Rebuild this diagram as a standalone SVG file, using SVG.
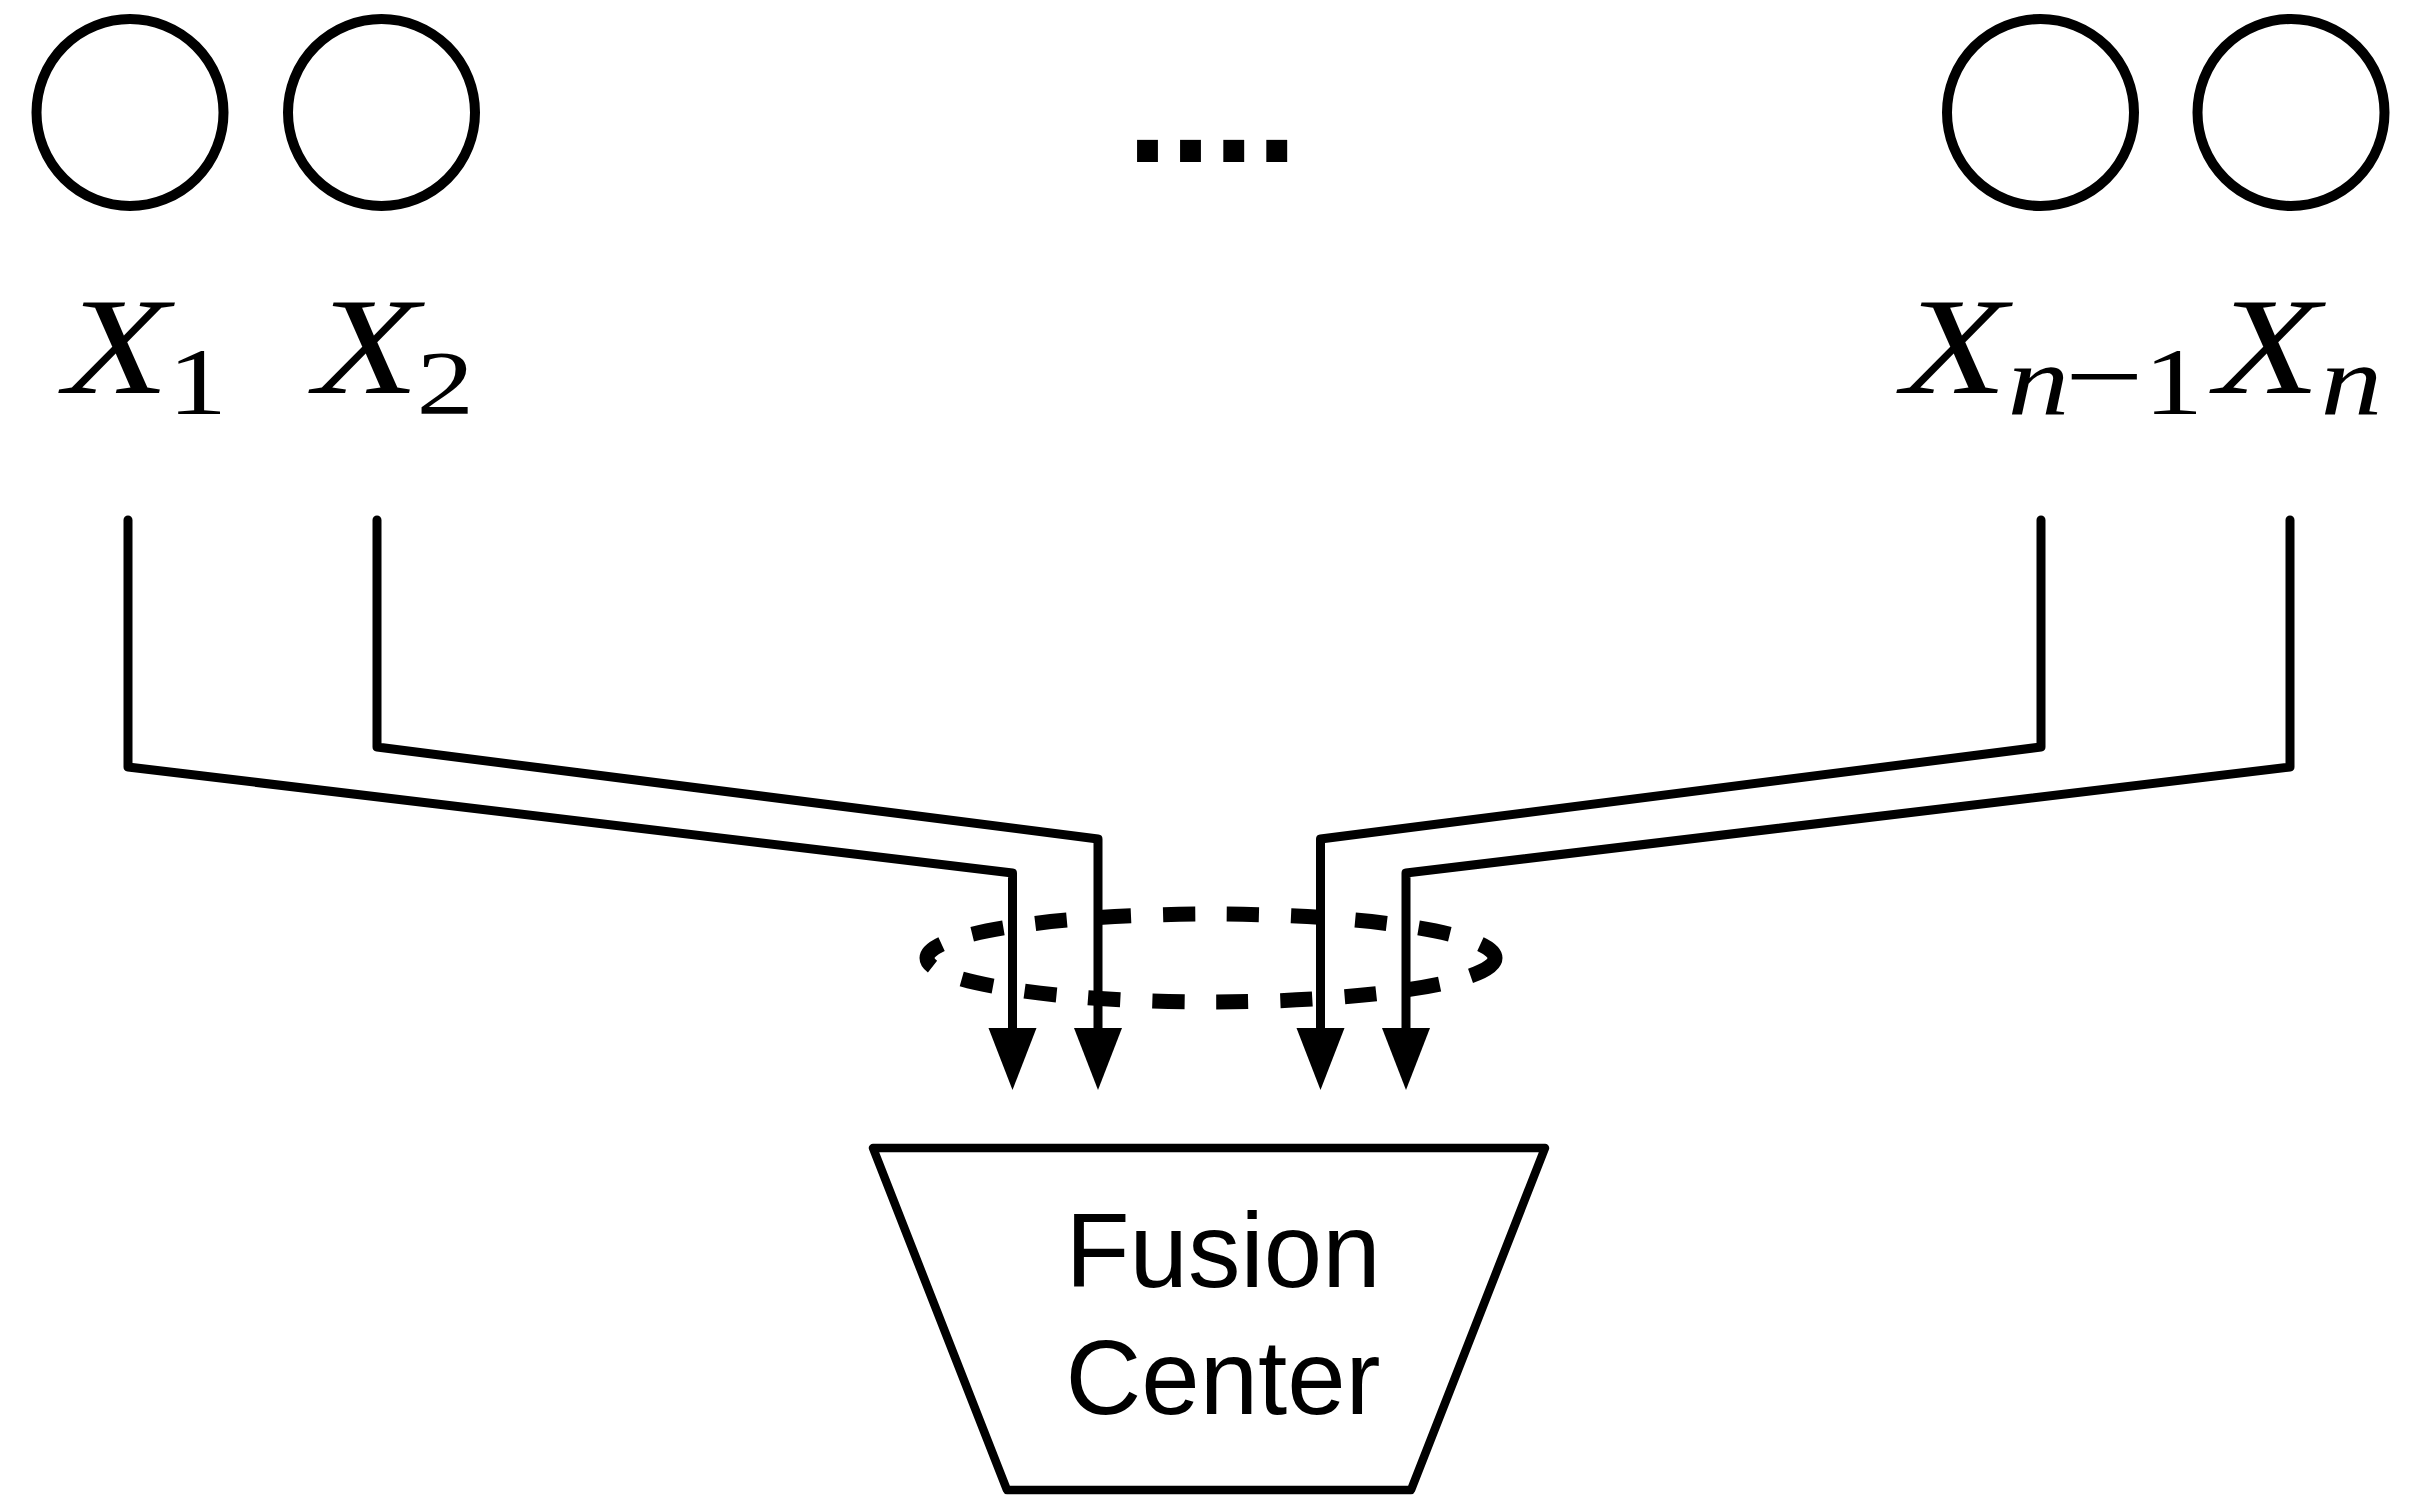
<svg xmlns="http://www.w3.org/2000/svg" width="2409" height="1496" viewBox="0 0 2409 1496">
<style>
.node{fill:none;stroke:#000;stroke-width:10}
.conn{fill:none;stroke:#000;stroke-width:9;stroke-linejoin:round;stroke-linecap:round}
.math{font-family:"Liberation Serif","Times New Roman",serif;fill:#000}
.it{font-style:italic}
.lbl{font-family:"Liberation Sans",Arial,sans-serif;font-size:105px;fill:#000;text-anchor:middle}
.dash{fill:none;stroke:#000;stroke-width:15;stroke-dasharray:32 32}
</style>
<defs>
<marker id="arr" markerUnits="userSpaceOnUse" markerWidth="64" markerHeight="50" viewBox="0 -25 64 50" refX="0" refY="0" orient="auto">
<path d="M0,-24 L0,24 L62,0 Z" fill="#000"/>
</marker>
</defs>
<rect width="2409" height="1496" fill="#fff"/>
<g id="node-x1">
<circle class="node" cx="130" cy="112.5" r="93.5"/>
<text class="math" transform="translate(64,393) scale(1.25,1)"><tspan class="it" font-size="138">X</tspan><tspan font-size="95" x="83" y="21">1</tspan></text>
</g>
<g id="node-x2">
<circle class="node" cx="381.5" cy="112.5" r="93.5"/>
<text class="math" transform="translate(314,393) scale(1.25,1)"><tspan class="it" font-size="138">X</tspan><tspan font-size="92" x="82" y="21">2</tspan></text>
</g>
<g id="ellipsis">
<text font-family="Liberation Sans,Arial,sans-serif" font-weight="bold" font-size="148" letter-spacing="2" x="1127" y="162">....</text>
</g>
<g id="node-xn1">
<circle class="node" cx="2040.5" cy="112.5" r="93.5"/>
<text class="math" transform="translate(1902,393) scale(1.25,1)"><tspan class="it" font-size="138">X</tspan><tspan class="it" font-size="99" x="84.5" y="21">n</tspan><tspan font-size="112" x="130" y="21">−</tspan><tspan font-size="95" x="193.5" y="21">1</tspan></text>
</g>
<g id="node-xn">
<circle class="node" cx="2291" cy="112.5" r="93.5"/>
<text class="math" transform="translate(2215,393) scale(1.25,1)"><tspan class="it" font-size="138">X</tspan><tspan class="it" font-size="99" x="84.5" y="21">n</tspan></text>
</g>
<g id="node-fusion">
<path d="M873,1148 L1545,1148 L1411,1490 L1007,1490 Z" fill="none" stroke="#000" stroke-width="8.5" stroke-linejoin="round"/>
<text class="lbl" x="1223" y="1286.5">Fusion</text>
<text class="lbl" x="1223" y="1414">Center</text>
</g>
<g id="connectors">
<polyline class="conn" points="128,520 128,767 1012.5,873 1012.5,1028" marker-end="url(#arr)"/>
<polyline class="conn" points="377,520 377,747 1098,839 1098,1028" marker-end="url(#arr)"/>
<polyline class="conn" points="2041,520 2041,747 1320.5,839 1320.5,1028" marker-end="url(#arr)"/>
<polyline class="conn" points="2290,520 2290,767 1406,873 1406,1028" marker-end="url(#arr)"/>
<ellipse class="dash" cx="1211" cy="958" rx="284" ry="44"/>
</g>
</svg>
